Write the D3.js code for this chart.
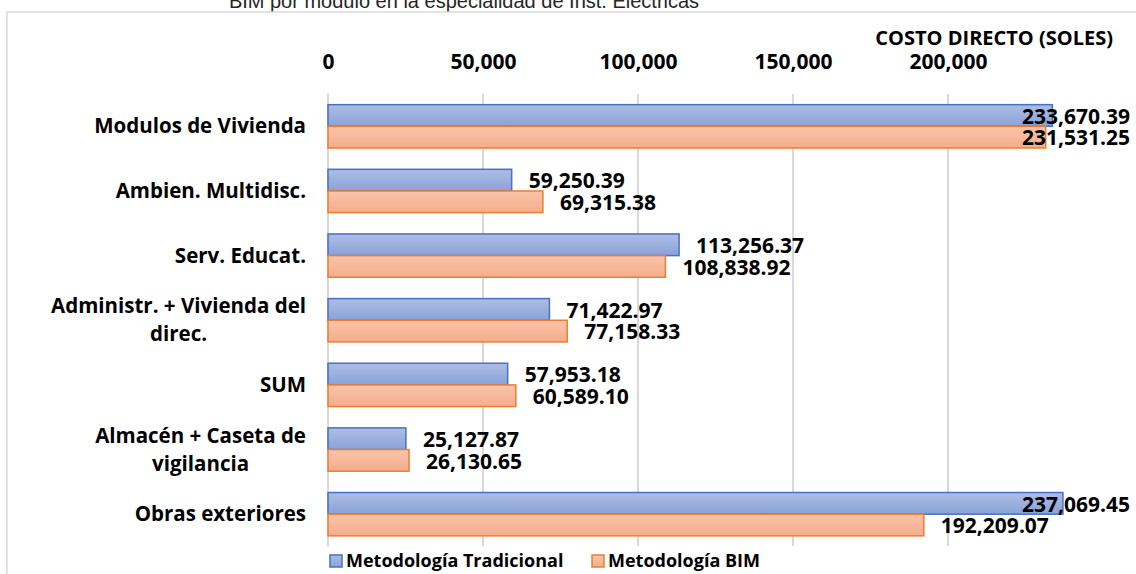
<!DOCTYPE html>
<html>
<head>
<meta charset="utf-8">
<script src="https://cdn.jsdelivr.net/npm/d3@7"></script>
<style>
  body { margin: 0; background: #fff; }
  svg { display: block; }
</style>
</head>
<body>
<svg id="svg1" width="1136" height="574"></svg>
<script>
// datos del gráfico
var categorias = ["Modulos de Vivienda", "Ambien. Multidisc.", "Serv. Educat.",
    "Administr. + Vivienda del|direc.", "SUM", "Almacén + Caseta de|vigilancia", "Obras exteriores"];
var tradicional = [233670.39, 59250.39, 113256.37, 71422.97, 57953.18, 25127.87, 237069.45];
var bim = [231531.25, 69315.38, 108838.92, 77158.33, 60589.10, 26130.65, 192209.07];
var ticks = [0, 50000, 100000, 150000, 200000];
var series = ["Metodología Tradicional", "Metodología BIM"];

var svg = d3.select("#svg1");
var fontB = "'Open Sans', sans-serif";

// dégradés des barres
var defs = svg.append("defs");
function grad(id, c1, c2) {
    var g = defs.append("linearGradient").attr("id", id)
        .attr("x1", 0).attr("y1", 0).attr("x2", 0).attr("y2", 1);
    g.append("stop").attr("offset", "0%").attr("stop-color", c1);
    g.append("stop").attr("offset", "100%").attr("stop-color", c2);
}
grad("gBlue", "#aebde4", "#8aa2d8");
grad("gOrange", "#f9c4ab", "#f4ad8b");
var colors = [{fill: "url(#gBlue)", stroke: "#4472c4"}, {fill: "url(#gOrange)", stroke: "#ed7d31"}];

// titre (coupé en haut)
svg.append("text")
    .attr("x", 464).attr("y", 8)
    .attr("text-anchor", "middle")
    .style("font-family", "'Liberation Sans', Arial, sans-serif")
    .style("font-size", "20px")
    .style("fill", "#262626")
    .text("BIM por módulo en la especialidad de Inst. Eléctricas");

// cadre du graphique
svg.append("rect")
    .attr("x", 7).attr("y", 12).attr("width", 1140).attr("height", 580)
    .style("fill", "none").style("stroke", "#d9d9d9").style("stroke-width", 1.5);

var xScale = d3.scaleLinear().domain([0, 250000]).range([328, 1103]);
var yScale = d3.scaleBand().domain(categorias).range([94, 546.5])
    .paddingInner(0.33).paddingOuter(0.165);
var barH = yScale.bandwidth() / 2;

// lignes de grille
svg.append("g").selectAll("line")
    .data(ticks)
    .enter()
    .append("line")
    .attr("x1", d => xScale(d)).attr("x2", d => xScale(d))
    .attr("y1", 94).attr("y2", 546)
    .style("stroke", "#d9d9d9").style("stroke-width", 2);

// axe du haut
var xAxis = g => g
    .attr("transform", "translate(0, 69)")
    .call(d3.axisTop(xScale).tickValues(ticks).tickFormat(d3.format(",")).tickSize(0))
    .call(g => g.select(".domain").remove())
    .call(g => g.selectAll("text")
        .attr("y", 0)
        .style("font-family", fontB).style("font-weight", "bold")
        .style("font-size", "21px").style("fill", "#000"));
svg.append("g").call(xAxis);

svg.append("text")
    .attr("x", 1113).attr("y", 45)
    .attr("text-anchor", "end")
    .style("font-family", fontB).style("font-weight", "bold")
    .style("font-size", "20px")
    .text("COSTO DIRECTO (SOLES)");

// étiquettes des catégories
var catSize = "20.5px";
categorias.forEach(function(c) {
    var lines = c.split("|");
    var cy = yScale(c) + yScale.bandwidth() / 2;
    var t = svg.append("text")
        .style("font-family", fontB).style("font-weight", "bold")
        .style("font-size", catSize).style("fill", "#000");
    if (lines.length == 1) {
        t.attr("x", 306).attr("y", cy).attr("dy", "0.35em")
            .attr("text-anchor", "end").text(lines[0]);
    } else {
        t.attr("x", 306).attr("y", cy - 14).attr("dy", "0.35em")
            .attr("text-anchor", "end").text(lines[0]);
        var w = t.node().getComputedTextLength();
        svg.append("text")
            .attr("x", 306 - w / 2).attr("y", cy + 14).attr("dy", "0.35em")
            .attr("text-anchor", "middle")
            .style("font-family", fontB).style("font-weight", "bold")
            .style("font-size", catSize).style("fill", "#000")
            .text(lines[1]);
    }
});

// barres + valeurs
var fmt = d3.format(",.2f");
[tradicional, bim].forEach(function(vals, s) {
    svg.append("g").selectAll("rect")
        .data(vals)
        .enter()
        .append("rect")
        .attr("x", xScale(0))
        .attr("y", (d, i) => yScale(categorias[i]) + s * barH)
        .attr("width", d => xScale(d) - xScale(0))
        .attr("height", barH)
        .style("fill", colors[s].fill)
        .style("stroke", colors[s].stroke)
        .style("stroke-width", 1.5);

    vals.forEach(function(d, i) {
        var t = svg.append("text")
            .attr("y", yScale(categorias[i]) + s * barH + barH / 2 + 1)
            .attr("dy", "0.35em")
            .style("font-family", fontB).style("font-weight", "bold")
            .style("font-size", "21px").style("fill", "#000")
            .text(fmt(d));
        var w = t.node().getComputedTextLength();
        t.attr("x", Math.min(xScale(d) + 17, 1130 - w));
    });
});

// légende
var leg = svg.append("g");
var legX = [330, 592];
series.forEach(function(s, i) {
    leg.append("rect")
        .attr("x", legX[i]).attr("y", 555).attr("width", 12).attr("height", 12)
        .style("fill", colors[i].fill).style("stroke", colors[i].stroke).style("stroke-width", 1.5);
    leg.append("text")
        .attr("x", legX[i] + 16).attr("y", 561).attr("dy", "0.35em")
        .style("font-family", fontB).style("font-weight", "bold")
        .style("font-size", "18px").style("fill", "#000")
        .text(s);
});
</script>
</body>
</html>
